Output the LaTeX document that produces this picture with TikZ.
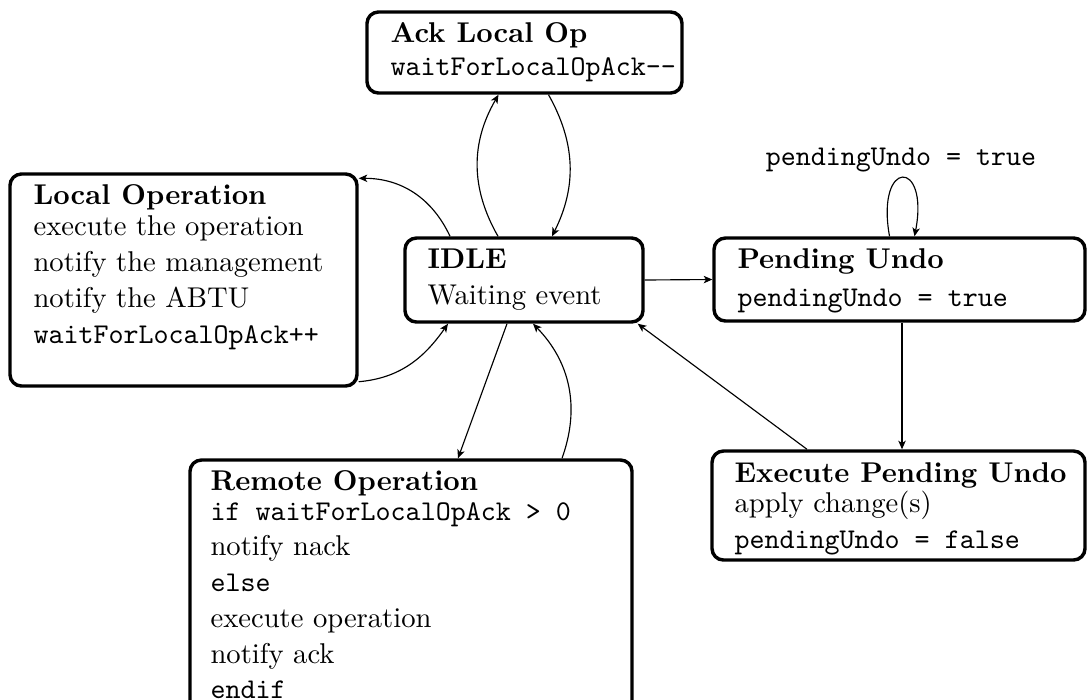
\documentclass[tikz,border=0pt]{standalone}
\usetikzlibrary{arrows.meta,fit}
\begin{document}
\begin{tikzpicture}[x=0.3497pt,y=0.3497pt,
  box/.style={draw, line width=1.2pt, rounded corners=4pt, inner sep=0pt},
  stitle/.style={anchor=base west, inner sep=0pt, font=\bfseries},
  txt/.style={anchor=base west, inner sep=0pt},
  mono/.style={anchor=base west, inner sep=0pt, font=\ttfamily},
  conn/.style={-{Stealth[length=3pt,width=2.6pt,inset=0.8pt]}, thin}]
\useasboundingbox (0,0) rectangle (1088,-699);
\clip (0,0) rectangle (1088,-699);

% state boxes
\node[box, fit={(367,-12)(682,-93)}] (ack) {};
\node[box, fit={(10,-174)(357,-386)}] (local) {};
\node[box, fit={(405,-238)(643,-322)}] (idle) {};
\node[box, fit={(714,-238)(1085,-321)}] (pend) {};
\node[box, fit={(712,-451)(1085,-560)}] (exec) {};
\node[box, fit={(190,-460)(632,-720)}] (remote) {};

% Ack Local Op
\node[stitle] (ackA) at (390,-42) {Ack Local Op};
\node[mono]   (ackB) at (390,-75) {waitForLocalOpAck-{}-};

% Local Operation
\node[stitle] (locA) at (33,-204) {Local Operation};
\node[txt]    (locB) at (33,-235) {execute the operation};
\node[txt]    (locC) at (33,-271) {notify the management};
\node[txt]    (locD) at (33,-307) {notify the ABTU};
\node[mono]   (locE) at (33,-343) {waitForLocalOpAck++};

% IDLE
\node[stitle] (idlA) at (427,-268) {IDLE};
\node[txt]    (idlB) at (427,-304) {Waiting event};

% Pending Undo
\node[stitle] (penA) at (737,-268) {Pending Undo};
\node[mono]   (penB) at (737,-306) {pendingUndo = true};

% Execute Pending Undo
\node[stitle] (exeA) at (734,-482) {Execute Pending Undo};
\node[txt]    (exeB) at (734,-512) {apply change(s)};
\node[mono]   (exeC) at (734,-548) {pendingUndo = false};

% Remote Operation
\node[stitle] (remA) at (210,-490) {Remote Operation};
\node[mono]   (remB) at (210,-520) {if waitForLocalOpAck > 0};
\node[txt]    (remC) at (210,-555) {notify nack};
\node[mono]   (remD) at (210,-591) {else};
\node[txt]    (remE) at (210,-627) {execute operation};
\node[txt]    (remF) at (210,-663) {notify ack};
\node[mono]   (remG) at (210,-698) {endif};

% self-loop label
\node[mono, anchor=base] (loopLbl) at (901,-165) {pendingUndo = true};

% transitions
\draw[conn] ([shift={(-26,0)}]idle.north) to[bend left=30] ([shift={(-26,0)}]ack.south);
\draw[conn] ([shift={(24,0)}]ack.south) to[bend left=28] ([shift={(28,0)}]idle.north);
\draw[conn] ([shift={(-74,0)}]idle.north) to[out=115,in=0] ([shift={(0,-6)}]local.north east);
\draw[conn] ([shift={(0,6)}]local.south east) to[out=5,in=-125] ([shift={(-76,0)}]idle.south);
\draw[conn] ([shift={(-17,0)}]idle.south) -- ([shift={(47,0)}]remote.north);
\draw[conn] ([shift={(151,0)}]remote.north) to[bend right=32] ([shift={(9,0)}]idle.south);
\draw[conn] (idle.east) -- (pend.west);
\draw[conn] ([shift={(-10,0)}]pend.north) .. controls +(-14,78) and +(15,78) .. ([shift={(15,0)}]pend.north);
\draw[conn] ([shift={(2.5,0)}]pend.south) -- ([shift={(3.5,0)}]exec.north);
\draw[conn] ([shift={(-91.5,0)}]exec.north) -- ([shift={(-7,0)}]idle.south east);
\end{tikzpicture}
\end{document}
